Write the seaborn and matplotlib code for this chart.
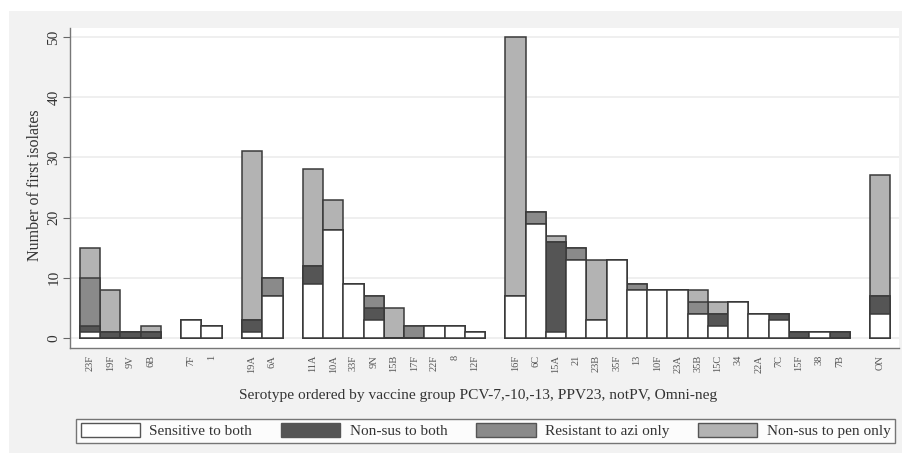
import matplotlib
matplotlib.use("Agg")
import matplotlib.pyplot as plt
from matplotlib.patches import Rectangle, Patch
import seaborn as sns
import pandas as pd
import numpy as np

serotypes = ["23F", "19F", "9V", "6B", "7F", "1", "19A", "6A",
             "11A", "10A", "33F", "9N", "15B", "17F", "22F", "8", "12F",
             "16F", "6C", "15A", "21", "23B", "35F", "13", "10F", "23A", "35B",
             "15C", "34", "22A", "7C", "15F", "38", "7B", "ON"]
vaccine_group = (["PCV-7"] * 4 + ["PCV-10"] * 2 + ["PCV-13"] * 2 + ["PPV23"] * 9
                 + ["notPV"] * 17 + ["Omni-neg"])

sensitive_both = [1, 0, 0, 0, 3, 2, 1, 7,
                  9, 18, 9, 3, 0, 0, 2, 2, 1,
                  7, 19, 1, 13, 3, 13, 8, 8, 8, 4, 2, 6, 4, 3, 0, 1, 0,
                  4]
nonsus_both = [1, 1, 1, 1, 0, 0, 2, 0,
               3, 0, 0, 2, 0, 0, 0, 0, 0,
               0, 0, 15, 0, 0, 0, 0, 0, 0, 0, 2, 0, 0, 1, 1, 0, 1,
               3]
resistant_azi_only = [8, 0, 0, 0, 0, 0, 0, 3,
                      0, 0, 0, 2, 0, 2, 0, 0, 0,
                      0, 2, 0, 2, 0, 0, 1, 0, 0, 2, 0, 0, 0, 0, 0, 0, 0,
                      0]
nonsus_pen_only = [5, 7, 0, 1, 0, 0, 28, 0,
                   16, 5, 0, 0, 5, 0, 0, 0, 0,
                   43, 0, 1, 0, 10, 0, 0, 0, 0, 2, 2, 0, 0, 0, 0, 0, 0,
                   20]

legend_labels = ["Sensitive to both", "Non-sus to both",
                 "Resistant to azi only", "Non-sus to pen only"]
colors = ["#ffffff", "#555555", "#8a8a8a", "#b3b3b3"]

# positions: one empty slot between vaccine groups
pos = []
slot = 0
prev = None
for g in vaccine_group:
    if prev is not None and g != prev:
        slot += 1
    pos.append(slot)
    slot += 1
    prev = g

layers = [sensitive_both, nonsus_both, resistant_azi_only, nonsus_pen_only]
cum = np.cumsum(np.array(layers), axis=0)

serif = ["Liberation Serif", "DejaVu Serif"]
plt.rcParams["font.family"] = serif
txtc = "#333333"

fig = plt.figure(figsize=(9.03, 4.54), dpi=100)
W, H = 903, 454
bg = Rectangle((9 / W, 1 - 453 / H), (903 - 9) / W, (453 - 11) / H,
               transform=fig.transFigure, facecolor="#f2f2f2",
               edgecolor="none", zorder=-10)
fig.add_artist(bg)
ax = fig.add_axes([70 / W, 1 - 348 / H, (899 - 70) / W, (348 - 28) / H])
ax.set_zorder(1)
ax.set_facecolor("white")

for i in range(3, -1, -1):
    df = pd.DataFrame({"pos": pos, "value": cum[i]})
    sns.barplot(data=df, x="pos", y="value", native_scale=True, width=1.0,
                color=colors[i], saturation=1, edgecolor="#3a3a3a",
                linewidth=1.1, errorbar=None, ax=ax, zorder=3)

ax.set_xlim(-0.99, 39.93)
ax.set_ylim(-1.66, 51.5)
ax.set_yticks([0, 10, 20, 30, 40, 50])
ax.set_yticklabels(["0", "10", "20", "30", "40", "50"], rotation=90,
                   va="center", fontsize=11, color=txtc)
ax.set_xticks(pos)
ax.set_xticklabels(serotypes, rotation=90, fontsize=7.5, color="#555555")
ax.tick_params(axis="x", length=0, pad=5)
ax.tick_params(axis="y", length=5, width=0.8, color="#666666", pad=2)
ax.grid(axis="y", color="#ececec", linewidth=1.2, zorder=0)
ax.set_axisbelow(True)
for s in ["top", "right"]:
    ax.spines[s].set_visible(False)
for s in ["left", "bottom"]:
    ax.spines[s].set_color("#777777")
    ax.spines[s].set_linewidth(1.0)
ax.set_xlabel("")
ax.set_ylabel("")

fig.text(35 / W, 1 - 185 / H, "Number of first isolates", rotation=90,
         ha="center", va="center", fontsize=11.5, color=txtc)
fig.text(478 / W, 1 - 395 / H,
         "Serotype ordered by vaccine group PCV-7,-10,-13, PPV23, notPV, Omni-neg",
         ha="center", va="center", fontsize=11.1, color=txtc)

handles = [Patch(facecolor=c, edgecolor="#555555", linewidth=1.0) for c in colors]
leg = fig.legend(handles, legend_labels, loc="lower left",
                 bbox_to_anchor=(76 / W, 1 - 443 / H, (895 - 76) / W, (443 - 415) / H),
                 mode="expand", ncol=4, fontsize=11, frameon=True, fancybox=False,
                 handlelength=3.9, handleheight=1.05, handletextpad=0.6,
                 borderaxespad=0, borderpad=0.3, columnspacing=1.5)
leg.get_frame().set_edgecolor("#555555")
leg.get_frame().set_facecolor("white")
leg.get_frame().set_linewidth(1.0)
for t in leg.get_texts():
    t.set_color(txtc)

fig.savefig("out.png", dpi=100, facecolor="white")
